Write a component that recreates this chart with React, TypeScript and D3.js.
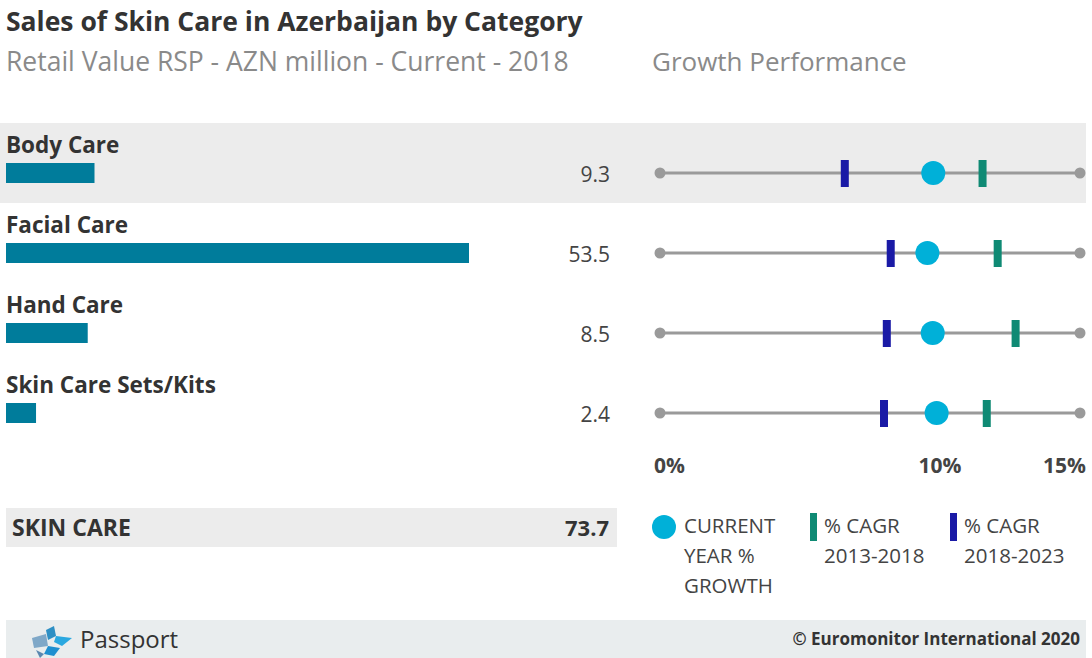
import { useEffect, useRef } from "react";
import * as d3 from "d3";

const categories = ["Body Care", "Facial Care", "Hand Care", "Skin Care Sets/Kits"];
const salesValues = [9.3, 53.5, 8.5, 2.4];
const currentGrowth = [9.76, 9.55, 9.74, 9.88];
const cagrPast = [11.52, 12.06, 12.7, 11.67];
const cagrFuture = [6.6, 8.24, 8.1, 8.0];
const growthTicks = [0, 10, 15];
const totalLabel = "SKIN CARE";
const totalValue = 73.7;

const W = 1092;
const H = 658;
const FONT = "'Open Sans', 'DejaVu Sans', sans-serif";

export default function App() {
  const svgRef = useRef<SVGSVGElement>(null);

  useEffect(() => {
    const svg = d3.select(svgRef.current);
    svg.selectAll("*").remove();
    svg.attr("width", W).attr("height", H).attr("font-family", FONT);

    // Title
    svg.append("text")
      .attr("x", 6).attr("y", 31)
      .attr("font-size", 26.5).attr("font-weight", 700)
      .attr("fill", "#333")
      .text("Sales of Skin Care in Azerbaijan by Category");
    svg.append("text")
      .attr("x", 6).attr("y", 71)
      .attr("font-size", 26.5).attr("fill", "#8a8a8a")
      .text("Retail Value RSP - AZN million - Current - 2018");
    svg.append("text")
      .attr("x", 652).attr("y", 71)
      .attr("font-size", 26).attr("fill", "#8a8a8a")
      .text("Growth Performance");

    const rowY = d3.scaleBand<string>()
      .domain(categories)
      .range([123, 443]);

    // bars have a small base offset as in the original
    const barW = d3.scaleLinear()
      .domain([0, d3.max(salesValues) as number])
      .range([9.7, 463]);

    const gx = d3.scaleLinear().domain([0, 15]).range([660, 1080]);

    categories.forEach((c, i) => {
      const y0 = rowY(c) as number;
      if (i === 0) {
        svg.append("rect")
          .attr("x", 0).attr("y", y0)
          .attr("width", 1086).attr("height", rowY.bandwidth())
          .attr("fill", "#ececec");
      }
      svg.append("text")
        .attr("x", 6).attr("y", y0 + 30)
        .attr("font-size", 22.5).attr("font-weight", 700)
        .attr("fill", "#333")
        .text(c);
      svg.append("rect")
        .attr("x", 6).attr("y", y0 + 40)
        .attr("width", barW(salesValues[i])).attr("height", 20)
        .attr("fill", "#007c9b");
      svg.append("text")
        .attr("x", 610).attr("y", y0 + 59)
        .attr("text-anchor", "end")
        .attr("font-size", 21).attr("fill", "#444")
        .text(salesValues[i].toFixed(1));

      const ly = y0 + 50;
      svg.append("line")
        .attr("x1", gx(0)).attr("x2", gx(15))
        .attr("y1", ly).attr("y2", ly)
        .attr("stroke", "#9a9a9a").attr("stroke-width", 3);
      [0, 15].forEach((t) => {
        svg.append("circle")
          .attr("cx", gx(t)).attr("cy", ly).attr("r", 5.5)
          .attr("fill", "#9a9a9a");
      });
      svg.append("rect")
        .attr("x", gx(cagrFuture[i]) - 4).attr("y", ly - 13)
        .attr("width", 8).attr("height", 27)
        .attr("fill", "#1a1aa6");
      svg.append("rect")
        .attr("x", gx(cagrPast[i]) - 4).attr("y", ly - 13)
        .attr("width", 8).attr("height", 27)
        .attr("fill", "#0f8a74");
      svg.append("circle")
        .attr("cx", gx(currentGrowth[i])).attr("cy", ly).attr("r", 12)
        .attr("fill", "#00b0d8");
    });

    // growth axis labels
    growthTicks.forEach((t, i) => {
      svg.append("text")
        .attr("x", i === 0 ? 654 : i === growthTicks.length - 1 ? 1086 : gx(t))
        .attr("y", 473)
        .attr("text-anchor", i === 0 ? "start" : i === growthTicks.length - 1 ? "end" : "middle")
        .attr("font-size", 21).attr("font-weight", 700)
        .attr("fill", "#444")
        .text(`${t}%`);
    });

    // total row
    svg.append("rect")
      .attr("x", 6).attr("y", 508)
      .attr("width", 611).attr("height", 39)
      .attr("fill", "#ececec");
    svg.append("text")
      .attr("x", 12).attr("y", 536)
      .attr("font-size", 23).attr("font-weight", 700)
      .attr("fill", "#333")
      .text(totalLabel);
    svg.append("text")
      .attr("x", 609).attr("y", 536)
      .attr("text-anchor", "end")
      .attr("font-size", 22).attr("font-weight", 700)
      .attr("fill", "#333")
      .text(totalValue.toFixed(1));

    // legend
    const lg = svg.append("g").attr("font-size", 20.5).attr("fill", "#444");
    lg.append("circle").attr("cx", 664).attr("cy", 527).attr("r", 12).attr("fill", "#00b0d8");
    ["CURRENT", "YEAR %", "GROWTH"].forEach((t, k) => {
      lg.append("text").attr("x", 684).attr("y", 533 + k * 30).text(t);
    });
    lg.append("rect").attr("x", 810).attr("y", 513).attr("width", 7).attr("height", 28).attr("fill", "#0f8a74");
    ["% CAGR", "2013-2018"].forEach((t, k) => {
      lg.append("text").attr("x", 824).attr("y", 533 + k * 30).text(t);
    });
    lg.append("rect").attr("x", 950).attr("y", 513).attr("width", 7).attr("height", 28).attr("fill", "#1a1aa6");
    ["% CAGR", "2018-2023"].forEach((t, k) => {
      lg.append("text").attr("x", 964).attr("y", 533 + k * 30).text(t);
    });

    // footer
    svg.append("rect")
      .attr("x", 6).attr("y", 620)
      .attr("width", 1080).attr("height", 38)
      .attr("fill", "#e9edee");
    const logo = svg.append("g").attr("transform", "translate(30,626)");
    logo.append("path").attr("d", "M16,4 L24,0 L26,10 L18,14 Z").attr("fill", "#2d8fc4");
    logo.append("path").attr("d", "M26,10 L42,12 L32,20 L24,16 Z").attr("fill", "#2aa8e0");
    logo.append("path").attr("d", "M2,12 L16,8 L18,20 L4,22 Z").attr("fill", "#7fa8c8");
    logo.append("path").attr("d", "M18,20 L30,22 L24,30 L14,28 Z").attr("fill", "#1f8fd0");
    logo.append("path").attr("d", "M6,24 L14,28 L10,32 Z").attr("fill", "#5a88b0");
    svg.append("text")
      .attr("x", 80).attr("y", 648)
      .attr("font-size", 24).attr("fill", "#333")
      .text("Passport");
    svg.append("text")
      .attr("x", 1080).attr("y", 645)
      .attr("text-anchor", "end")
      .attr("font-size", 17).attr("font-weight", 700)
      .attr("fill", "#333")
      .text("© Euromonitor International 2020");
  }, []);

  return (
    <div style={{ position: "absolute", left: 0, top: 0, background: "#fff" }}>
      <svg ref={svgRef} />
    </div>
  );
}
